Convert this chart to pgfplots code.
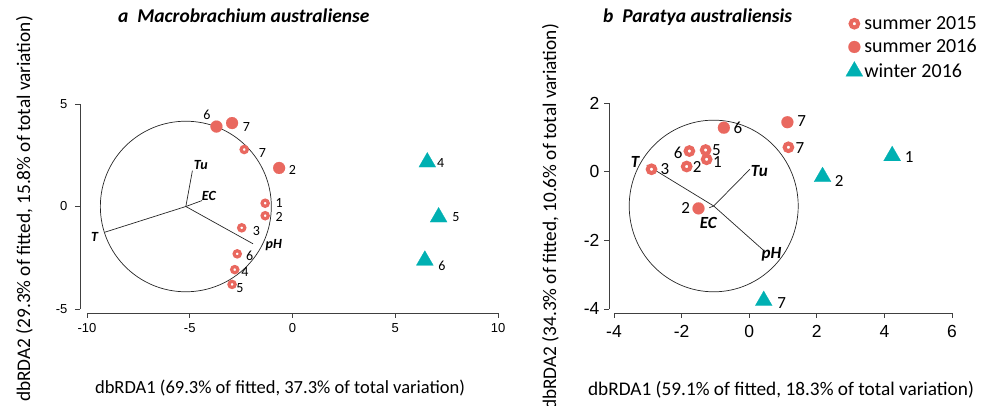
\documentclass[border=0pt]{standalone}
\usepackage{pgfplots}
\pgfplotsset{compat=1.18}
\usepackage{fontspec}
\setmainfont{Liberation Sans}
\newfontfamily\calfont{Carlito}
\definecolor{salmon}{RGB}{233,104,95}
\definecolor{tealc}{RGB}{0,176,178}
\pgfplotsset{
  mylegimg/.style={legend image code/.code={\draw[mark repeat=2,mark phase=2,##1] plot coordinates {(0pt,0pt) (7pt,0pt) (14pt,0pt)};}},
  ringL/.style={only marks, mark=*, mark size=3.1pt, mark options={draw=salmon, fill=white, line width=3.2pt}},
  ringR/.style={only marks, mark=*, mark size=3.8pt, mark options={draw=salmon, fill=white, line width=4pt}, mylegimg},
  dotL/.style={only marks, mark=*, mark size=6pt, mark options={draw=salmon, fill=salmon, line width=0.1pt}},
  dotR/.style={only marks, mark=*, mark size=6pt, mark options={draw=salmon, fill=salmon, line width=0.1pt}, mylegimg},
  tri/.style={only marks, mark=triangle*, mark size=9.8pt, mark options={draw=tealc, fill=tealc, line width=0.2pt}, mylegimg},
  myaxis/.style={
    anchor=south west, scale only axis,
    axis line style={draw=none},
    xtick pos=left, ytick pos=left,
    tick align=outside, major tick length=5pt,
    tick style={black!75, line width=0.8pt},
    /pgf/number format/assume math mode=true,
    clip=false,
  },
}
\begin{document}
\begin{tikzpicture}
\path[use as bounding box] (0,0) rectangle (988pt,406pt);
% ---------------- left panel ----------------
\begin{axis}[myaxis,
  at={(80pt,93pt)}, width=418pt, height=209pt,
  xmin=-10.34, xmax=10, ymin=-5.195, ymax=5,
  xtick={-10,-5,0,5,10}, ytick={-5,0,5},
  ticklabel style={font=\fontsize{13}{15}\selectfont},
  xticklabel style={yshift=-2pt}, yticklabel style={xshift=-4pt},
]
\draw[black!75, line width=0.8pt] (axis cs:-10,-5.195) -- (axis cs:10,-5.195);
\draw[black!75, line width=0.8pt] (axis cs:-10.34,-5) -- (axis cs:-10.34,5);
\draw[black!85, line width=0.7pt] (axis cs:-5.19,0) ellipse [x radius=4.16, y radius=4.16];
\draw[black!85, line width=0.7pt] (axis cs:-5.19,0) -- (axis cs:-9.12,-1.25);
\draw[black!85, line width=0.7pt] (axis cs:-5.19,0) -- (axis cs:-4.87,1.75);
\draw[black!85, line width=0.7pt] (axis cs:-5.19,0) -- (axis cs:-4.40,0.29);
\draw[black!85, line width=0.7pt] (axis cs:-5.19,0) -- (axis cs:-1.92,-1.82);
\addplot[ringL] table {
x y
-1.33 0.16
-1.33 -0.45
-2.47 -1.04
-2.81 -3.08
-2.94 -3.80
-2.69 -2.31
-2.35 2.78
};
\addplot[dotL] table {
x y
-3.70 3.90
-2.94 4.07
-0.65 1.88
};
\addplot[tri] table {
x y
6.56 2.16
7.11 -0.52
6.44 -2.63
};
\begin{scope}[every node/.style={font=\calfont\fontsize{14}{16}\selectfont, inner sep=0pt}]
\node at (axis cs:-0.65,0.16) {1};
\node at (axis cs:-0.65,-0.49) {2};
\node at (axis cs:-1.75,-1.20) {3};
\node at (axis cs:-2.08,-2.39) {6};
\node at (axis cs:-2.31,-3.20) {4};
\node at (axis cs:-2.56,-3.96) {5};
\node at (axis cs:-1.46,2.60) {7};
\node at (axis cs:-4.16,4.46) {6};
\node at (axis cs:-2.24,3.90) {7};
\node at (axis cs:0.0,1.79) {2};
\node at (axis cs:7.21,2.11) {4};
\node at (axis cs:7.95,-0.52) {5};
\node at (axis cs:7.27,-2.87) {6};
\end{scope}
\begin{scope}[every node/.style={font=\calfont\bfseries\itshape\fontsize{14}{16}\selectfont, inner sep=0pt}]
\node at (axis cs:-9.63,-1.49) {T};
\node at (axis cs:-4.46,2.00) {Tu};
\node at (axis cs:-4.07,0.49) {EC};
\node at (axis cs:-0.91,-1.90) {pH};
\end{scope}
\end{axis}
% ---------------- right panel ----------------
\begin{axis}[myaxis,
  at={(609pt,93pt)}, width=343pt, height=210pt,
  xmin=-4.148, xmax=6, ymin=-4.117, ymax=2,
  xtick={-4,-2,0,2,4,6}, ytick={-4,-2,0,2},
  ticklabel style={font=\fontsize{17.5}{20}\selectfont},
  xticklabel style={yshift=-4pt}, yticklabel style={xshift=-1pt},
  legend style={at={(axis description cs:0.690,1.42)}, anchor=north west, draw=none, fill=none,
    font=\calfont\fontsize{20}{22}\selectfont, inner sep=0pt, row sep=5.5pt,
    nodes={inner sep=1.5pt}},
  legend cell align=left,
]
\draw[black!75, line width=0.8pt] (axis cs:-4,-4.117) -- (axis cs:6,-4.117);
\draw[black!75, line width=0.8pt] (axis cs:-4.148,-4) -- (axis cs:-4.148,2);
\draw[black!85, line width=0.7pt] (axis cs:-1.05,-1.0) ellipse [x radius=2.5, y radius=2.5];
\draw[black!85, line width=0.7pt] (axis cs:-1.05,-1.0) -- (axis cs:-3.03,0.19);
\draw[black!85, line width=0.7pt] (axis cs:-1.05,-1.0) -- (axis cs:0.02,0.07);
\draw[black!85, line width=0.7pt] (axis cs:-1.05,-1.0) -- (axis cs:-1.18,-1.05);
\draw[black!85, line width=0.7pt] (axis cs:-1.05,-1.0) -- (axis cs:0.41,-2.28);
\addplot[ringR] table {
x y
-1.26 0.36
-1.85 0.15
-2.89 0.07
-1.29 0.63
-1.77 0.60
1.16 0.71
};
\addlegendentry{summer 2015}
\addplot[dotR] table {
x y
-1.50 -1.07
-0.75 1.28
1.13 1.44
};
\addlegendentry{summer 2016}
\addplot[tri] table {
x y
4.23 0.46
2.17 -0.15
0.43 -3.76
};
\addlegendentry{winter 2016}
\begin{scope}[every node/.style={font=\calfont\fontsize{17}{19}\selectfont, inner sep=0pt}]
\node at (axis cs:-2.49,0.07) {3};
\node at (axis cs:-2.10,0.55) {6};
\node at (axis cs:-0.97,0.63) {5};
\node at (axis cs:-0.94,0.29) {1};
\node at (axis cs:-1.54,0.13) {2};
\node at (axis cs:1.50,0.69) {7};
\node at (axis cs:-0.33,1.28) {6};
\node at (axis cs:1.55,1.46) {7};
\node at (axis cs:-1.88,-1.07) {2};
\node at (axis cs:4.73,0.44) {1};
\node at (axis cs:2.66,-0.26) {2};
\node at (axis cs:0.96,-3.82) {7};
\end{scope}
\begin{scope}[every node/.style={font=\calfont\bfseries\itshape\fontsize{17}{19}\selectfont, inner sep=0pt}]
\node at (axis cs:-3.38,0.29) {T};
\node at (axis cs:0.30,0.03) {Tu};
\node at (axis cs:-1.21,-1.50) {EC};
\node at (axis cs:0.66,-2.40) {pH};
\end{scope}
\end{axis}
% ---------------- titles and axis labels ----------------
\node[anchor=base west, inner sep=0pt, font=\calfont\bfseries\itshape\fontsize{19.5}{21}\selectfont] at (118pt,383pt) {a\ \ Macrobrachium australiense};
\node[anchor=base west, inner sep=0pt, font=\calfont\bfseries\itshape\fontsize{19.5}{21}\selectfont] at (603pt,383pt) {b\ \ Paratya australiensis};
\node[inner sep=0pt, font=\calfont\fontsize{18.5}{20}\selectfont] at (280pt,18pt) {dbRDA1 (69.3\% of fitted, 37.3\% of total variation)};
\node[inner sep=0pt, font=\calfont\fontsize{19.3}{21}\selectfont] at (781pt,16pt) {dbRDA1 (59.1\% of fitted, 18.3\% of total variation)};
\node[anchor=base, rotate=90, inner sep=0pt, font=\calfont\fontsize{19.3}{21}\selectfont] at (30pt,197pt) {dbRDA2 (29.3\% of fitted, 15.8\% of total variation)};
\node[anchor=base, rotate=90, inner sep=0pt, font=\calfont\fontsize{19.3}{21}\selectfont] at (556pt,189pt) {dbRDA2 (34.3\% of fitted, 10.6\% of total variation)};
\end{tikzpicture}
\end{document}
